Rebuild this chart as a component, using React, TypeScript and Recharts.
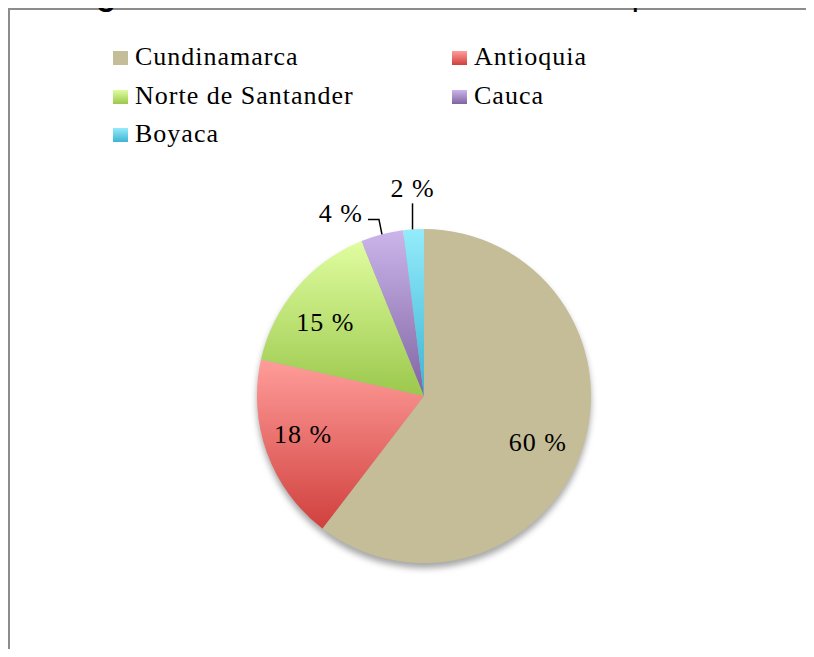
import { PieChart, Pie, Cell, Legend } from 'recharts';

// departamentos y participación (%) en la producción de fresa
const departamentos = ['Cundinamarca', 'Antioquia', 'Norte de Santander', 'Cauca', 'Boyaca'];
const participacion = [60.4, 18.1, 15.4, 4.1, 2.0];
const coloresArriba = ['#C4BD97', '#FF9D9A', '#E0FDA0', '#CBB5EA', '#94ECFB'];
const coloresAbajo = ['#C4BD97', '#D0403D', '#9BC84C', '#8064A2', '#3DB3D3'];

const data = departamentos.map((name, i) => ({ name, value: participacion[i] }));

const serif = '"Liberation Serif", "Times New Roman", serif';
const RAD = Math.PI / 180;
// pequeño ajuste de las etiquetas internas (como las coloca Excel)
const ajusteX = [0, -8, -7];
const ajusteY = [8, -3, 4];

const renderLabel = (props: any) => {
  const { cx, cy, midAngle, outerRadius, percent, index } = props;
  const text = `${Math.round(percent * 100)} %`;
  const style = { fontFamily: serif, fontSize: 26, letterSpacing: 1, fill: '#000' };
  if (percent > 0.1) {
    const r = outerRadius * 0.72;
    const x = cx + r * Math.cos(-midAngle * RAD) + (ajusteX[index] || 0);
    const y = cy + r * Math.sin(-midAngle * RAD) + (ajusteY[index] || 0);
    return (
      <text x={x} y={y} textAnchor="middle" dominantBaseline="central" style={style}>
        {text}
      </text>
    );
  }
  const ex = cx + outerRadius * Math.cos(-midAngle * RAD);
  const ey = cy + outerRadius * Math.sin(-midAngle * RAD);
  if (index === 3) {
    return (
      <g>
        <path d={`M${ex},${ey} L${ex - 3},${ey - 15} L${ex - 14},${ey - 15}`} stroke="#000" strokeWidth={1.5} fill="none" />
        <text x={ex - 19} y={ey - 21} textAnchor="end" dominantBaseline="central" style={style}>
          {text}
        </text>
      </g>
    );
  }
  return (
    <g>
      <path d={`M${ex - 1},${ey} L${ex - 1},${ey - 26}`} stroke="#000" strokeWidth={1.5} fill="none" />
      <text x={ex - 1} y={ey - 41} textAnchor="middle" dominantBaseline="central" style={style}>
        {text}
      </text>
    </g>
  );
};

const renderLegend = (props: any) => {
  const payload = (props.payload || []).filter((e: any) => departamentos.includes(e.value));
  const ordered = departamentos.filter((d) => payload.some((e: any) => e.value === d));
  return (
    <div
      style={{
        display: 'grid',
        gridTemplateColumns: '339px auto',
        gridAutoRows: '38.5px',
        fontFamily: serif,
        fontSize: 26,
        letterSpacing: 1,
        color: '#000',
      }}
    >
      {ordered.map((name) => {
        const i = departamentos.indexOf(name);
        return (
          <div key={name} style={{ display: 'flex', alignItems: 'center' }}>
            <span
              style={{
                width: 15,
                height: 14,
                marginRight: 7,
                marginTop: 2,
                background: `linear-gradient(${coloresArriba[i]}, ${coloresAbajo[i]})`,
              }}
            />
            <span>{name}</span>
          </div>
        );
      })}
    </div>
  );
};

export default function App() {
  return (
    <div style={{ position: 'relative', width: 814, height: 657, margin: -8, overflow: 'hidden', background: '#fff' }}>
      <div
        style={{
          position: 'absolute',
          left: 8,
          top: 8,
          width: 1000,
          height: 1000,
          borderLeft: '2px solid #8c8c8c',
          borderTop: '2px solid #8c8c8c',
        }}
      />
      <div style={{ position: 'absolute', left: 0, top: 0 }}>
        <PieChart width={814} height={657} margin={{ top: 0, right: 0, bottom: 0, left: 0 }}>
          <defs>
            {departamentos.map((d, i) => (
              <linearGradient key={d} id={`grad-${i}`} x1="0" y1="0" x2="0" y2="1">
                <stop offset="0%" stopColor={coloresArriba[i]} />
                <stop offset="100%" stopColor={coloresAbajo[i]} />
              </linearGradient>
            ))}
            <filter id="sombra" x="-20%" y="-20%" width="140%" height="140%">
              <feGaussianBlur stdDeviation="3" />
            </filter>
          </defs>
          <Legend
            layout="horizontal"
            verticalAlign="middle"
            align="center"
            itemSorter={null}
            content={renderLegend}
            wrapperStyle={{ left: 113, top: 38, width: 600 }}
          />
          {/* sombra del pastel */}
          <Pie
            data={data}
            dataKey="value"
            nameKey="name"
            cx={424}
            cy={401}
            outerRadius={167}
            startAngle={90}
            endAngle={-270}
            stroke="none"
            fill="#000"
            legendType="none"
            label={false}
            labelLine={false}
            isAnimationActive={false}
          >
            {data.map((d) => (
              <Cell key={d.name} fill="#000" fillOpacity={0.35} filter="url(#sombra)" />
            ))}
          </Pie>
          <Pie
            data={data}
            dataKey="value"
            nameKey="name"
            cx={424}
            cy={396}
            outerRadius={167}
            startAngle={90}
            endAngle={-270}
            stroke="none"
            label={renderLabel}
            labelLine={false}
            isAnimationActive={false}
          >
            {data.map((d, i) => (
              <Cell key={d.name} fill={`url(#grad-${i})`} />
            ))}
          </Pie>
        </PieChart>
      </div>
      <div
        style={{
          position: 'absolute',
          left: 68,
          top: -22,
          fontFamily: '"Liberation Sans", Arial, sans-serif',
          fontSize: 32,
          lineHeight: '32px',
          whiteSpace: 'nowrap',
          color: '#000',
        }}
      >
        <b>Figura 3.</b> Producción nacional de fresa para 2013
      </div>
    </div>
  );
}
